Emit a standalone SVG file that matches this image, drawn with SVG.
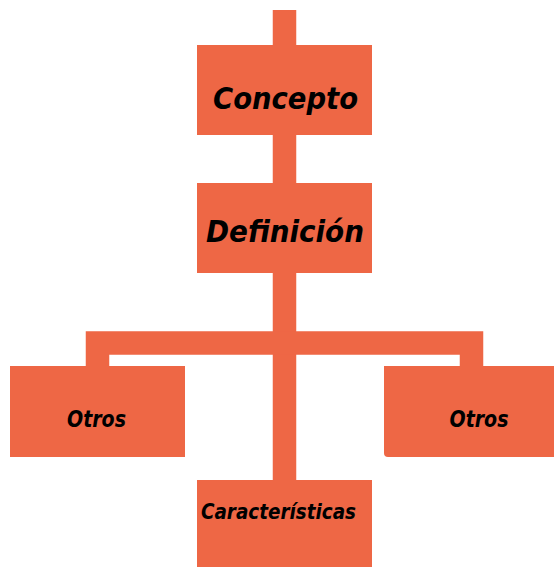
<svg xmlns="http://www.w3.org/2000/svg" width="554" height="567" viewBox="0 0 554 567">
<style>
.box{fill:#EE6745;}
.con{stroke:#EE6745;stroke-width:23.5;fill:none;stroke-linecap:butt;}
.lbl{font-family:"DejaVu Sans",sans-serif;font-weight:bold;font-style:italic;fill:#000;text-anchor:middle;}
</style>
<rect width="554" height="567" fill="#fff"/>
<g id="connectors">
<line class="con" x1="284.5" y1="10" x2="284.5" y2="46"/>
<line class="con" x1="284.5" y1="134" x2="284.5" y2="184"/>
<line class="con" x1="284.5" y1="271" x2="284.5" y2="481"/>
<polyline class="con" points="97.5,367 97.5,343 471.5,343 471.5,367"/>
</g>
<g id="concepto">
<rect class="box" x="197" y="45" width="175" height="90"/>
<text class="lbl" x="285.5" y="109" font-size="30" textLength="145" lengthAdjust="spacingAndGlyphs">Concepto</text>
</g>
<g id="definicion">
<rect class="box" x="197" y="183" width="175" height="90"/>
<text class="lbl" x="285" y="242" font-size="30" textLength="158" lengthAdjust="spacingAndGlyphs">Definición</text>
</g>
<g id="otros-izq">
<rect class="box" x="10" y="366" width="175" height="91"/>
<text class="lbl" x="96.5" y="427" font-size="23" textLength="59" lengthAdjust="spacingAndGlyphs">Otros</text>
</g>
<g id="otros-der">
<path class="box" d="M384,366 H560 V457 H388 Q384,457 384,453 Z"/>
<text class="lbl" x="479" y="427" font-size="23" textLength="59" lengthAdjust="spacingAndGlyphs">Otros</text>
</g>
<g id="caracteristicas">
<rect class="box" x="197" y="480" width="175" height="95"/>
<text class="lbl" x="278.5" y="519" font-size="22" textLength="155" lengthAdjust="spacingAndGlyphs">Características</text>
</g>
</svg>
